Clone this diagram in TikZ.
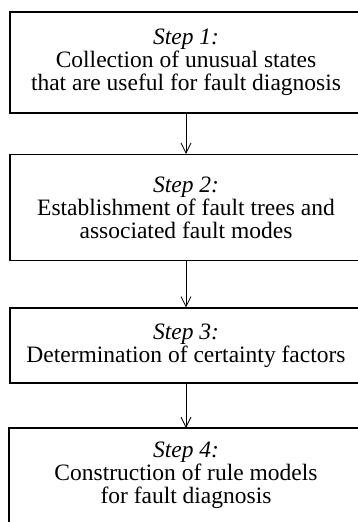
\documentclass[tikz,border=0pt]{standalone}
\usepackage{fontspec}
\setmainfont{Liberation Serif}
\usetikzlibrary{positioning, arrows.meta}

\begin{document}
\begin{tikzpicture}[x=1pt, y=-1pt, thick, stepbox/.style = {draw, line width=1.6pt, minimum width=352pt, inner sep=0pt, align=center, font=\fontsize{23.5}{23}\selectfont}]
\useasboundingbox (0,0) rectangle (358,522);
\clip (0,0) rectangle (358,522);
\node[stepbox, minimum height=101pt] (s1) at (186,62.5) {\textit{Step 1:}\\Collection of unusual states\\that are useful for fault diagnosis};
\node[stepbox, minimum height=106pt] (s2) [below=40pt of s1] {\textit{Step 2:}\\Establishment of fault trees and\\associated fault modes};
\node[stepbox, minimum height=75pt] (s3) [below=46pt of s2] {\textit{Step 3:}\\Determination of certainty factors};
\node[stepbox, draw=none, minimum height=92pt] (s4) [below=44pt of s3] {\textit{Step 4:}\\Construction of rule models\\for fault diagnosis};
% last box runs past the bottom edge
\draw[line width=1.6pt] (s4.north west) rectangle ([yshift=-20pt]s4.south east);

\draw[-{Straight Barb[length=10pt, width=10pt]}, line width=0.8pt] (s1) -- (s2);
\draw[-{Straight Barb[length=10pt, width=10pt]}, line width=0.8pt] (s2) -- (s3);
\draw[-{Straight Barb[length=10pt, width=10pt]}, line width=0.8pt] (s3) -- (s4);

\end{tikzpicture}
\end{document}
